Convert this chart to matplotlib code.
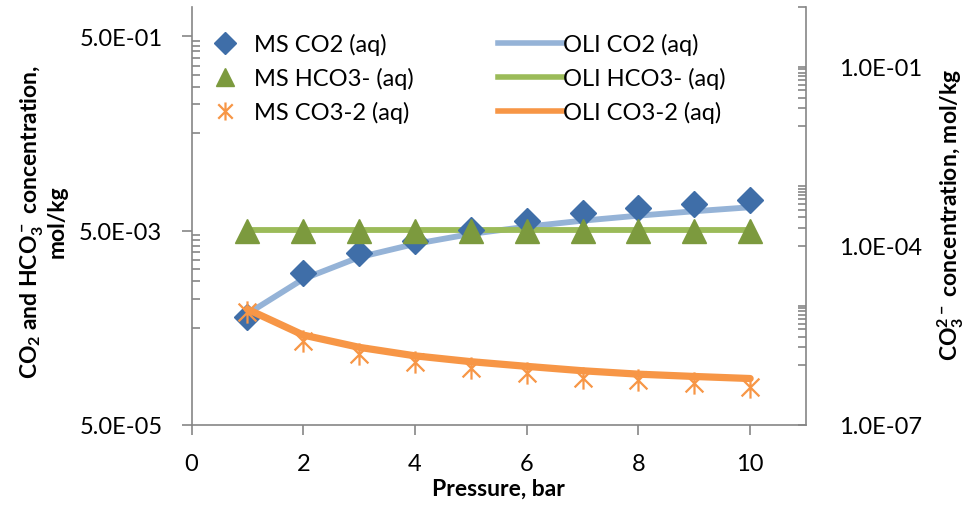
import matplotlib
matplotlib.use("Agg")
import matplotlib.pyplot as plt
from matplotlib.path import Path
from matplotlib.ticker import FixedLocator, FuncFormatter, NullFormatter
from matplotlib.lines import Line2D

plt.rcParams['font.family'] = ['Lato', 'DejaVu Sans']
plt.rcParams['mathtext.fontset'] = 'custom'
plt.rcParams['mathtext.rm'] = 'Lato:bold'
plt.rcParams['mathtext.bf'] = 'Lato:bold'
plt.rcParams['mathtext.default'] = 'bf'

# ---- data ----
pressure = [1, 2, 3, 4, 5, 6, 7, 8, 9, 10]
ms_co2 = [6.5e-4, 1.83e-3, 2.94e-3, 3.94e-3, 5.12e-3, 6.33e-3, 7.55e-3, 8.49e-3, 9.40e-3, 1.04e-2]
ms_hco3 = [5.0e-3, 5.0e-3, 5.0e-3, 5.0e-3, 5.0e-3, 5.0e-3, 5.0e-3, 5.0e-3, 5.0e-3, 5.0e-3]
ms_co3 = [7.7e-6, 2.57e-6, 1.54e-6, 1.12e-6, 8.9e-7, 7.4e-7, 6.2e-7, 5.6e-7, 5.0e-7, 4.4e-7]
oli_co2 = [6.95e-4, 1.59e-3, 2.66e-3, 3.65e-3, 4.62e-3, 5.49e-3, 6.33e-3, 7.13e-3, 7.91e-3, 8.7e-3]
oli_hco3 = [5.05e-3, 5.05e-3, 5.05e-3, 5.05e-3, 5.05e-3, 5.05e-3, 5.05e-3, 5.05e-3, 5.05e-3, 5.05e-3]
oli_co3 = [8.7e-6, 3.21e-6, 2.0e-6, 1.44e-6, 1.15e-6, 9.6e-7, 8.1e-7, 7.1e-7, 6.5e-7, 6.0e-7]

x_ticks = [0, 2, 4, 6, 8, 10]
left_major = [5e-5, 5e-3, 5e-1]
right_major = [1e-7, 1e-4, 1e-1]

# ---- styles ----
c_dia = '#3F6EA8'
c_co2 = '#95B3D7'
c_tri = '#7C9A3E'
c_hco3 = '#9BBB59'
c_co3 = '#F79646'
c_spine = '#868686'
FS = 17

ast = Path([(0, -1), (0, 1), (-0.8, -0.8), (0.8, 0.8), (-0.8, 0.8), (0.8, -0.8)],
           [Path.MOVETO, Path.LINETO, Path.MOVETO, Path.LINETO, Path.MOVETO, Path.LINETO])

fig = plt.figure(figsize=(9.71, 5.10), dpi=100)
ax = fig.add_axes([191.5 / 971, 84 / 510, (806 - 191.5) / 971, 418 / 510])
ax2 = ax.twinx()

l_oco2, = ax.plot(pressure, oli_co2, color=c_co2, lw=4.2, solid_capstyle='round', zorder=2)
l_ohco3, = ax.plot(pressure, oli_hco3, color=c_hco3, lw=4.2, solid_capstyle='round', zorder=2)
m_co2, = ax.plot(pressure, ms_co2, ls='none', marker='D', ms=13, color=c_dia, mec=c_dia, zorder=3)
m_hco3, = ax.plot(pressure, ms_hco3, ls='none', marker='^', ms=17, color=c_tri, mec=c_tri, zorder=4)

m_co3, = ax2.plot(pressure, ms_co3, ls='none', marker=ast, ms=16, mfc='none', mec=c_co3, mew=1.6, zorder=3)
l_oco3, = ax2.plot(pressure, oli_co3, color=c_co3, lw=5.2, solid_capstyle='round', zorder=2)

ax.set_xlim(0, 11)
ax.set_yscale('log')
ax.set_ylim(5e-5, 1.0)
ax2.set_yscale('log')
ax2.set_ylim(1e-7, 1.0)

ax.yaxis.set_major_locator(FixedLocator(left_major))
ax.yaxis.set_major_formatter(FuncFormatter(lambda v, p: '%.1E' % v))
left_minor = [5e-4 * k for k in range(1, 10)] + [5e-2 * k for k in range(1, 10)]
ax.yaxis.set_minor_locator(FixedLocator(left_minor))
ax.yaxis.set_minor_formatter(NullFormatter())

ax2.yaxis.set_major_locator(FixedLocator(right_major))
ax2.yaxis.set_major_formatter(FuncFormatter(lambda v, p: '%.1E' % v))
right_minor = []
for d in [1e-6, 1e-4, 1e-2]:
    for k in range(1, 11):
        v = d * k
        if all(abs(v - m) / m > 1e-6 for m in right_major):
            right_minor.append(v)
right_minor.append(1.0)
ax2.yaxis.set_minor_locator(FixedLocator(right_minor))
ax2.yaxis.set_minor_formatter(NullFormatter())

ax.xaxis.set_major_locator(FixedLocator(x_ticks))
ax.xaxis.set_minor_locator(FixedLocator([]))

for a in (ax, ax2):
    for s in a.spines.values():
        s.set_color(c_spine)
        s.set_linewidth(1.2)
ax.spines['top'].set_visible(False)
ax.spines['right'].set_visible(False)
ax2.spines['top'].set_visible(False)
ax2.spines['left'].set_visible(False)
ax2.spines['bottom'].set_visible(False)

ax.tick_params(axis='y', which='major', direction='out', length=7, width=1.2, color=c_spine,
               labelsize=FS, pad=14)
ax.tick_params(axis='y', which='minor', direction='in', length=6, width=1.2, color=c_spine)
ax.tick_params(axis='x', which='major', direction='out', length=7, width=1.2, color=c_spine,
               labelsize=FS, pad=13)
ax2.tick_params(axis='y', which='major', direction='in', length=6, width=1.2, color=c_spine,
                labelsize=FS, pad=24)
ax2.tick_params(axis='y', which='minor', direction='in', length=6, width=1.2, color=c_spine)

ax.set_xlabel('Pressure, bar', fontsize=16.5, fontweight='bold', labelpad=3)
fig.text(0.044, 0.5 + (510 / 2 - 222) / 510, r'CO$_2$ and HCO$_3^-$ concentration,' + '\n' + 'mol/kg',
         rotation=90, ha='center', va='center', fontsize=16.5, fontweight='bold', linespacing=1.1)
fig.text(951 / 971, 0.5 + (510 / 2 - 215) / 510, r'CO$_3^{2-}$ concentration, mol/kg',
         rotation=90, ha='center', va='center', fontsize=16.5, fontweight='bold')

leg1_handles = [
    Line2D([], [], ls='none', marker='D', ms=11, color=c_dia),
    Line2D([], [], ls='none', marker='^', ms=13, color=c_tri),
    Line2D([], [], ls='none', marker=ast, ms=13, mfc='none', mec=c_co3, mew=1.6),
]
leg1 = ax2.legend(leg1_handles, ['MS CO2 (aq)', 'MS HCO3- (aq)', 'MS CO3-2 (aq)'],
                  loc='upper left', bbox_to_anchor=(208 / 971, 1 - 34 / 510),
                  bbox_transform=fig.transFigure, frameon=False, fontsize=FS,
                  handlelength=1.4, handletextpad=0.55, labelspacing=0.5, borderaxespad=0,
                  borderpad=0)
ax2.add_artist(leg1)
leg2_handles = [
    Line2D([], [], color=c_co2, lw=4),
    Line2D([], [], color=c_hco3, lw=4),
    Line2D([], [], color=c_co3, lw=4),
]
ax2.legend(leg2_handles, ['OLI CO2 (aq)', 'OLI HCO3- (aq)', 'OLI CO3-2 (aq)'],
           loc='upper left', bbox_to_anchor=(498 / 971, 1 - 34 / 510),
           bbox_transform=fig.transFigure, frameon=False, fontsize=FS,
           handlelength=2.7, handletextpad=0.05, labelspacing=0.5, borderaxespad=0,
           borderpad=0)

fig.savefig('out.png', dpi=100)
